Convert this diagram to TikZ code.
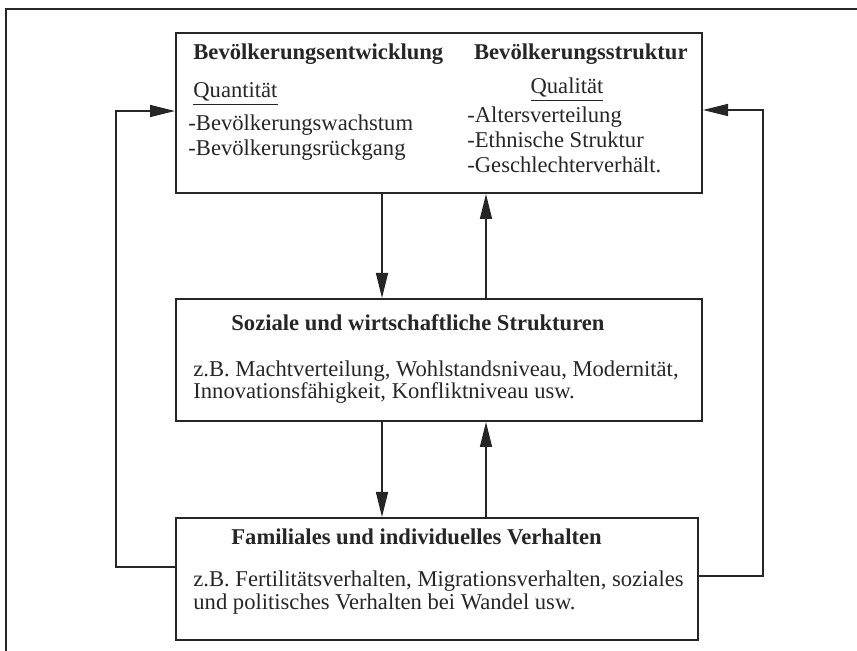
\documentclass[tikz,border=0pt]{standalone}
\usepackage{fontspec}
\setmainfont{Liberation Serif}
\usepackage{tikz}
\usetikzlibrary{arrows.meta,positioning}
\definecolor{ink}{HTML}{262626}
\newcommand{\fs}{\fontsize{11.3}{13.6}\selectfont}
\tikzset{
  box/.style={rectangle, draw=ink, line width=1pt, inner sep=0pt, anchor=north west},
  txt/.style={inner sep=0pt, anchor=base west, font=\fs, text=ink},
  hd/.style={txt, font=\fs\bfseries},
  flow/.style={-{Triangle[length=12.5pt,width=6pt]}, draw=ink, line width=0.8pt},
  frame/.style={draw=ink, line width=1.1pt}
}
\begin{document}
\begin{tikzpicture}[x=0.5pt, y=-0.5pt]
 \useasboundingbox (0,0) rectangle (857,651);
 \draw[frame] (6,651) -- (6,9) -- (857,9);

 \node[box, minimum width=263pt, minimum height=80pt] (top) at (175,32) {};
 \node[box, below=52pt of top.south west, anchor=north west, minimum width=263pt, minimum height=61pt] (mid) {};
 \node[box, below=47.5pt of mid.south west, anchor=north west, minimum width=261pt, minimum height=61pt] (bot) {};

 \node[hd] (hent) at (193,60) {Bevölkerungsentwicklung};
 \node[hd, anchor=base east] (hstr) at (688,60) {Bevölkerungsstruktur};
 \node[txt] (quan) at (193,98) {\underline{Quantität}};
 \node[txt, anchor=base] (qual) at (567,94) {\underline{Qualität}};
 \node[txt] (l1) at (188,131) {-Bevölkerungswachstum};
 \node[txt] (l2) at (188,156) {-Bevölkerungsrückgang};
 \node[txt] (r1) at (467,123) {-Altersverteilung};
 \node[txt] (r2) at (467,148) {-Ethnische Struktur};
 \node[txt] (r3) at (467,173) {-Geschlechterverhält.};

 \node[hd] (hsoz) at (231,331) {Soziale und wirtschaftliche Strukturen};
 \node[txt] (s1) at (193,377) {z.B. Machtverteilung, Wohlstandsniveau, Modernität,};
 \node[txt] (s2) at (193,399) {Innovationsfähigkeit, Konfliktniveau usw.};

 \node[hd] (hfam) at (231,545) {Familiales und individuelles Verhalten};
 \node[txt] (f1) at (193,587) {z.B. Fertilitätsverhalten, Migrationsverhalten, soziales};
 \node[txt] (f2) at (193,610) {und politisches Verhalten bei Wandel usw.};

 \coordinate (dn) at (382,0); \coordinate (up) at (486,0);
 \draw[flow] (top.south -| dn) -- (mid.north -| dn);
 \draw[flow] (mid.north -| up) -- (top.south -| up);
 \draw[flow] (mid.south -| dn) -- (bot.north -| dn);
 \draw[flow] (bot.north -| up) -- (mid.south -| up);

 \coordinate (lfb) at (116,567); \coordinate (lft) at (116,111);
 \coordinate (rfb) at (763,576); \coordinate (rft) at (763,110);
 \draw[flow] (bot.west |- lfb) -- (lfb) -- (lft) -- (top.west |- lft);
 \draw[flow] (bot.east |- rfb) -- (rfb) -- (rft) -- (top.east |- rft);
\end{tikzpicture}
\end{document}
